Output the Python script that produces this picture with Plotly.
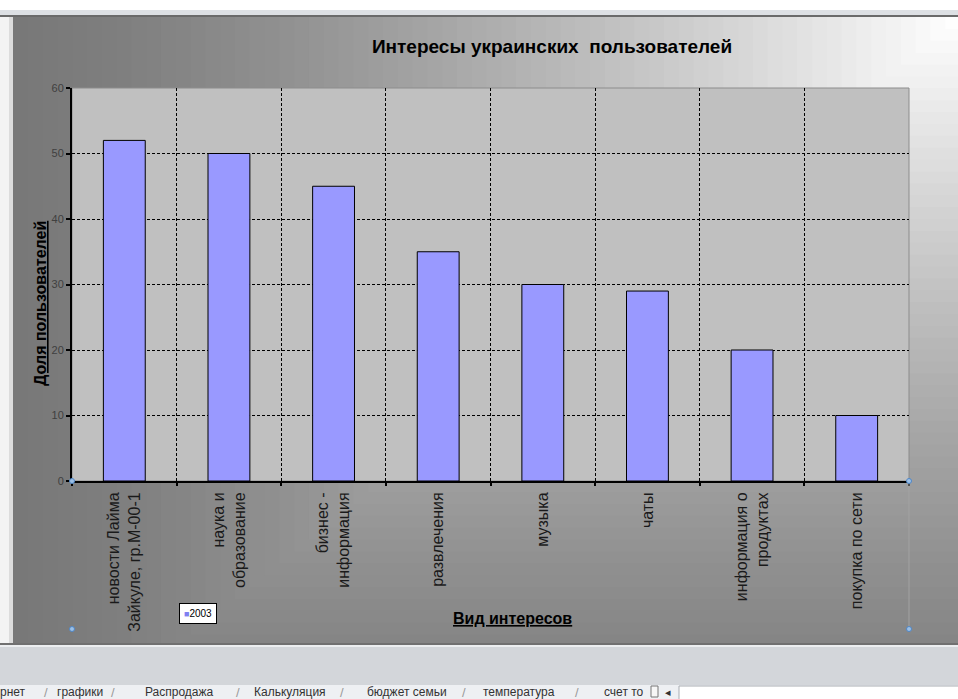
import plotly.graph_objects as go

# ---------------- data ----------------
categories = [
    "новости Лайма<br>Зайкуле, гр.М-00-1",
    "наука и<br>образование",
    "бизнес -<br>информация",
    "развлечения",
    "музыка",
    "чаты",
    "информация о<br>продуктах",
    "покупка по сети",
]
values_2003 = [52, 50, 45, 35, 30, 29, 20, 10]
series_name = "2003"
y_tick_values = [0, 10, 20, 30, 40, 50, 60]
chart_title = "Интересы украинских&nbsp; пользователей"
y_title = "Доля пользователей"
x_title = "Вид интересов"
sheet_tabs = ["рнет", "графики", "Распродажа", "Калькуляция", "бюджет семьи", "температура", "счет то"]
sheet_tab_left = [-2, 55, 143, 252, 365, 481, 602]
sheet_sep_x = [46, 113, 238, 342, 464, 577]

# ---------------- geometry helpers ----------------
W, H = 958, 699
PL, PR, PT, PB = 72, 909, 88, 481


def px(x):
    return (x - PL) / (PR - PL)


def py(y):
    return (PB - y) / (PB - PT)


def gray(v):
    v = int(round(max(0, min(255, v))))
    return f"rgb({v},{v},{v})"


def prect(x0, y0, x1, y1, fill, line=None, lw=0, layer="below"):
    return dict(type="rect", xref="paper", yref="paper",
                x0=px(x0), x1=px(x1), y0=py(y0), y1=py(y1),
                fillcolor=fill, line=dict(color=line or fill, width=lw),
                layer=layer)


shapes = []
# window chrome
shapes.append(prect(-5, -5, 965, 10, "#ffffff"))
shapes.append(prect(-5, 10, 965, 15, "#dde0e4"))
shapes.append(prect(-5, 15, 965, 17, "#6a6a6a"))
shapes.append(prect(-5, 17, 9, 645, "#f3f3f3"))
shapes.append(prect(9, 17, 13, 645, "#dcdcdc"))

# chart area gradient (from top-right corner)
CX0, CY0, CX1, CY1 = 13, 17, 960, 643
Wn, Hn = 947, 760
N = 64
for k in range(N, 0, -1):
    t = k / N
    x0 = max(CX0, CX1 - t * Wn)
    y1 = min(CY1, CY0 + t * Hn)
    tm = (k - 0.5) / N
    c = 120 + 135 * (1 - tm) ** 1.35
    shapes.append(prect(x0, CY0, CX1, y1, gray(c)))

# bottom chrome
shapes.append(prect(-5, 643, 965, 645, "#707070"))
shapes.append(prect(-5, 645, 965, 647, "#eceef0"))
shapes.append(prect(-5, 647, 965, 685, "#d3d6da"))
shapes.append(prect(-5, 685, 965, 705, "#eef0f3"))
shapes.append(prect(679, 686, 965, 705, "#ffffff", line="#a9adb2", lw=1))
shapes.append(prect(651, 686, 658, 697, "#f6f6f6", line="#777777", lw=1))

# plot-area fill and gray border
shapes.append(dict(type="rect", xref="x domain", yref="y domain",
                   x0=0, x1=1, y0=0, y1=1, fillcolor="#C0C0C0",
                   line=dict(color="#8c8c8c", width=1), layer="below"))

# selection line and handles
shapes.append(dict(type="line", xref="paper", yref="paper",
                   x0=px(909), x1=px(909), y0=py(483), y1=py(629),
                   line=dict(color="#a2a2a2", width=1), layer="above"))
for hx, hy in [(72, 481), (909, 481), (72, 629), (909, 629)]:
    shapes.append(dict(type="circle", xref="paper", yref="paper",
                       x0=px(hx - 2.5), x1=px(hx + 2.5), y0=py(hy + 2.5), y1=py(hy - 2.5),
                       fillcolor="#9cc0e6", line=dict(color="#4f86c6", width=1),
                       layer="above"))

FONT = "Arial, 'Liberation Sans', sans-serif"

annotations = [
    dict(text=f"<b><span style='text-decoration:underline'>{y_title}</span></b>",
         xref="paper", yref="paper", x=px(40), y=py(304), textangle=-90,
         showarrow=False, xanchor="center", yanchor="middle",
         font=dict(family=FONT, size=16, color="#000000")),
    dict(text=f"<b><span style='text-decoration:underline'>{x_title}</span></b>",
         xref="paper", yref="paper", x=px(512), y=py(618),
         showarrow=False, xanchor="center", yanchor="middle",
         font=dict(family=FONT, size=16, color="#000000")),
    dict(text=f"<span style='font-size:9px;color:#8080F0'>■</span>{series_name}",
         xref="paper", yref="paper", x=px(197.5), y=py(613.5),
         showarrow=False, xanchor="center", yanchor="middle",
         bgcolor="#ffffff", bordercolor="#000000", borderwidth=1, borderpad=4,
         font=dict(family=FONT, size=10, color="#000000")),
]
for name, lx in zip(sheet_tabs, sheet_tab_left):
    annotations.append(dict(text=name, xref="paper", yref="paper",
                            x=px(lx), y=py(692), xanchor="left", yanchor="middle",
                            showarrow=False,
                            font=dict(family=FONT, size=12, color="#333333")))
for sx in sheet_sep_x:
    annotations.append(dict(text="/", xref="paper", yref="paper",
                            x=px(sx), y=py(692), xanchor="center", yanchor="middle",
                            showarrow=False,
                            font=dict(family=FONT, size=13, color="#9a9a9a")))
annotations.append(dict(text="◂", xref="paper", yref="paper",
                        x=px(668), y=py(692), xanchor="center", yanchor="middle",
                        showarrow=False, font=dict(family="DejaVu Sans", size=11, color="#333333")))

fig = go.Figure()
fig.add_trace(go.Bar(
    x=categories, y=values_2003, name=series_name,
    marker=dict(color="#9999FF", line=dict(color="#000000", width=1)),
    showlegend=False,
))

fig.update_layout(
    width=W, height=H, autosize=False,
    margin=dict(l=PL, r=W - PR, t=PT, b=H - PB, pad=0),
    paper_bgcolor="#ffffff",
    plot_bgcolor="#C0C0C0",
    bargap=0.6,
    title=dict(text=f"<b>{chart_title}</b>", x=552 / W, xref="container", xanchor="center",
               y=1 - 46 / H, yref="container", yanchor="middle",
               font=dict(family=FONT, size=19, color="#000000")),
    shapes=shapes,
    annotations=annotations,
    showlegend=False,
    xaxis=dict(
        type="category", range=[-0.5, len(categories) - 0.5],
        showline=True, linecolor="#000000", linewidth=2,
        ticks="outside", tickson="boundaries", ticklen=3, tickwidth=2, tickcolor="#000000",
        showgrid=True, gridcolor="#000000", gridwidth=1, griddash="3px,2px",
        tickangle=-90, ticklabelstandoff=3,
        tickfont=dict(family=FONT, size=16, color="#1a1a1a"),
        automargin=False, fixedrange=True,
    ),
    yaxis=dict(
        range=[0, 60], tickvals=y_tick_values,
        showline=True, linecolor="#000000", linewidth=2,
        ticks="outside", ticklen=4, tickwidth=2, tickcolor="#000000",
        showgrid=True, gridcolor="#000000", gridwidth=1, griddash="3px,2px",
        zeroline=False,
        tickfont=dict(family=FONT, size=11, color="#404040"),
        automargin=False, fixedrange=True,
    ),
)

fig.write_html("out.html", config={"displayModeBar": False},
               post_script="document.body.style.margin='0';document.body.style.overflow='hidden';")
